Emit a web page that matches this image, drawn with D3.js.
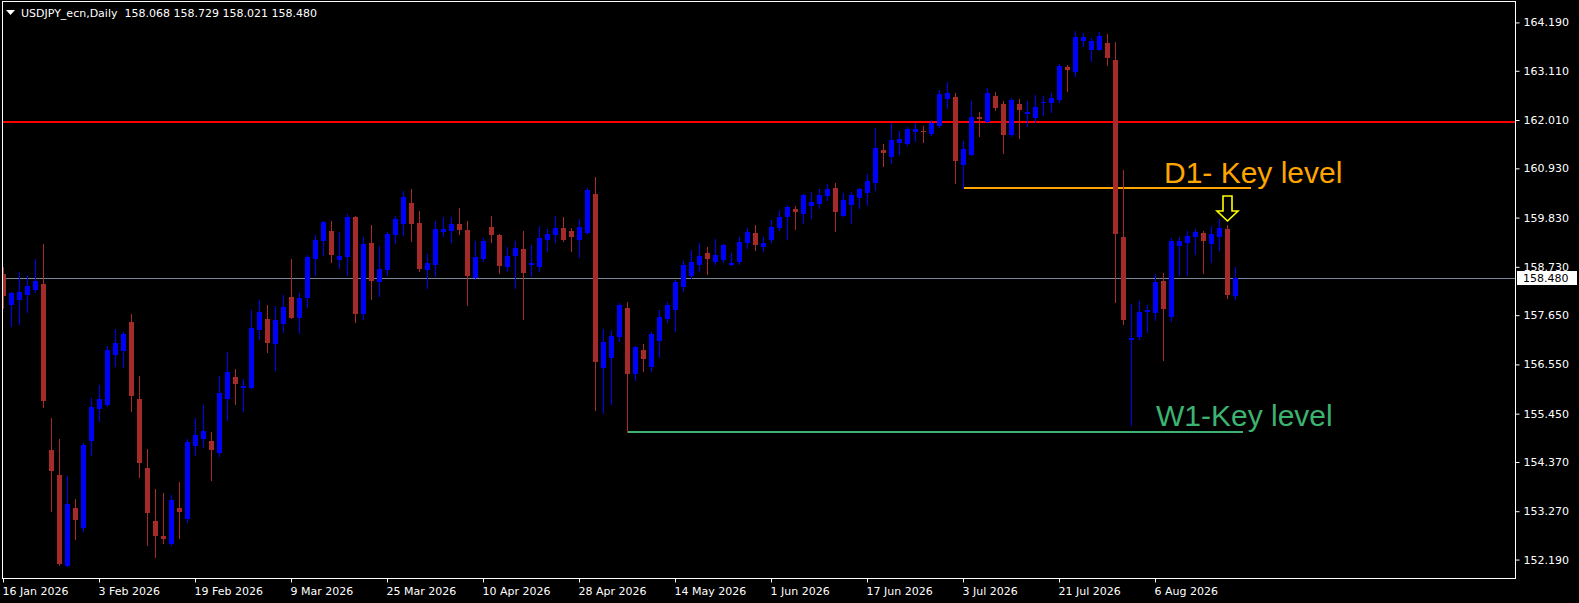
<!DOCTYPE html>
<html><head><meta charset="utf-8">
<script src="https://cdn.jsdelivr.net/npm/d3@7"></script>
<style>
html,body{margin:0;padding:0;background:#000;overflow:hidden;}
svg{display:block;}
</style></head><body>
<svg id="chart" width="1579" height="603"></svg>
<script>
// ---------------- data ----------------
const titleText = "USDJPY_ecn,Daily  158.068 158.729 158.021 158.480";
const dateLabels = ["16 Jan 2026","3 Feb 2026","19 Feb 2026","9 Mar 2026","25 Mar 2026","10 Apr 2026",
  "28 Apr 2026","14 May 2026","1 Jun 2026","17 Jun 2026","3 Jul 2026","21 Jul 2026","6 Aug 2026"];
const barsPerDateLabel = 12;
const priceTicks = [164.190,163.110,162.010,160.930,159.830,158.730,157.650,156.550,155.450,154.370,153.270,152.190];

const opens = [158.569,157.877,157.995,158.100,158.219,158.346,154.637,154.079,152.052,153.342,
152.901,154.838,155.553,155.643,156.760,156.849,157.497,155.777,154.235,153.051,
152.716,152.544,153.342,153.103,154.733,154.883,154.838,154.570,155.777,156.268,
156.029,156.029,157.325,157.564,157.012,157.459,158.056,157.593,158.040,158.911,
159.313,159.530,158.889,158.956,159.843,157.682,159.262,158.397,158.665,159.441,
159.693,160.156,159.709,158.665,158.770,159.514,159.530,159.686,159.552,158.480,
158.904,159.619,159.441,158.726,158.971,159.128,158.770,158.726,159.329,159.441,
159.597,159.530,159.329,159.485,160.357,156.469,156.693,157.162,157.810,156.342,
156.871,156.498,157.073,157.564,157.772,158.286,158.531,158.777,159.039,158.844,
158.889,158.770,158.844,159.262,159.485,159.173,159.329,159.597,159.843,160.022,
159.917,160.089,160.140,160.312,160.491,159.872,160.111,160.267,160.379,160.609,
161.340,161.190,161.503,161.474,161.742,161.771,161.697,161.876,162.486,162.524,
161.011,161.235,162.077,161.972,162.546,162.367,161.681,162.367,162.144,162.061,
162.396,162.396,162.457,163.194,163.082,163.775,163.574,163.574,163.730,163.350,
159.396,157.102,157.162,157.727,157.698,158.413,157.609,159.195,159.262,159.396,
159.485,159.240,159.396,159.575,158.068];
const highs = [158.719,158.167,158.614,158.547,158.904,159.240,155.346,154.883,154.056,153.543,
154.787,155.806,156.090,156.961,157.341,157.274,157.676,156.291,154.660,153.766,
153.677,153.625,153.922,154.876,155.352,155.643,155.039,156.297,156.827,156.447,
156.224,157.765,157.989,157.877,157.861,158.100,158.904,158.145,158.994,159.441,
159.753,159.753,159.508,159.917,159.865,159.396,159.664,159.195,159.508,159.865,
160.424,160.468,159.977,159.016,159.753,159.843,159.843,160.044,159.753,159.307,
159.374,159.865,159.463,159.173,159.307,159.530,159.217,159.642,159.575,159.865,
159.843,159.597,159.798,160.491,160.736,157.341,157.318,157.921,157.944,156.961,
157.005,157.274,157.765,157.944,158.435,158.860,159.106,159.262,159.173,159.351,
159.240,159.039,159.396,159.597,159.664,159.396,159.776,159.999,160.111,160.089,
160.357,160.401,160.468,160.580,160.602,160.372,160.401,160.484,160.803,161.831,
161.474,161.950,161.764,161.853,161.950,161.876,162.010,162.680,162.859,162.613,
161.541,162.434,162.189,162.725,162.635,162.434,162.501,162.479,162.434,162.568,
162.546,162.613,163.261,163.239,163.998,163.954,163.842,163.976,163.931,163.752,
160.893,157.899,157.966,157.877,158.569,158.592,159.374,159.396,159.530,159.575,
159.530,159.642,159.798,159.664,158.729];
const lows = [157.816,157.414,157.459,157.727,158.174,155.605,153.275,152.068,152.046,152.656,
152.834,154.532,155.285,155.620,156.521,156.498,155.515,154.041,152.522,152.254,
152.566,152.522,152.678,153.035,154.532,154.704,153.967,154.510,155.308,155.665,
155.515,156.020,157.124,156.833,156.431,157.280,157.586,157.251,157.839,158.554,
159.001,158.844,158.710,158.554,157.504,157.571,158.018,158.085,158.554,159.269,
159.441,159.313,158.643,158.263,158.525,159.418,159.284,159.463,157.877,158.458,
158.860,159.284,158.592,158.636,158.257,157.564,158.525,158.636,159.083,159.284,
159.307,159.083,158.949,159.463,155.531,155.464,155.665,157.073,155.050,156.201,
156.409,156.409,156.722,157.504,157.303,158.196,158.487,158.643,158.576,158.799,
158.844,158.760,158.799,159.150,159.106,159.083,159.284,159.552,159.351,159.575,
159.709,159.820,160.044,160.223,159.530,159.865,159.709,160.051,160.111,160.453,
160.989,161.056,161.257,161.459,161.547,161.525,161.686,161.861,162.285,160.609,
160.500,161.228,161.659,161.965,162.240,161.279,161.659,161.614,161.883,161.972,
162.128,162.195,162.419,162.664,162.993,163.663,163.328,163.563,163.239,157.944,
157.452,155.196,157.117,157.274,157.542,156.648,157.519,158.547,158.547,159.016,
158.592,158.837,159.106,158.033,158.021];
const closes = [158.085,158.138,158.167,158.301,158.413,155.732,154.175,152.090,153.431,153.080,
154.749,155.598,155.777,156.878,157.028,157.229,155.850,154.354,153.237,152.723,
152.656,153.520,153.252,154.816,154.972,155.062,154.637,155.911,156.380,156.119,
156.067,157.363,157.720,157.035,157.542,157.832,157.593,158.033,158.949,159.329,
159.742,159.001,158.971,159.843,157.682,159.240,158.420,158.681,159.463,159.798,
160.290,159.693,158.681,158.815,159.575,159.575,159.686,159.552,158.525,158.949,
159.307,159.441,158.748,158.971,159.150,158.592,158.815,159.374,159.463,159.597,
159.329,159.396,159.619,160.446,156.603,157.050,157.184,157.877,156.335,156.938,
156.677,157.229,157.609,157.877,158.391,158.770,158.837,158.971,158.911,158.994,
159.217,158.815,159.284,159.508,159.224,159.262,159.619,159.843,160.066,159.955,
160.334,160.178,160.334,160.468,159.955,160.223,160.334,160.468,160.647,161.384,
161.279,161.563,161.585,161.809,161.809,161.742,161.950,162.591,162.613,161.101,
161.362,162.077,162.032,162.613,162.285,161.681,162.457,162.240,162.189,162.300,
162.423,162.501,163.216,163.134,163.864,163.864,163.781,163.887,163.395,159.463,
157.542,157.140,157.720,157.758,158.391,157.787,159.307,159.307,159.418,159.508,
159.307,159.463,159.597,158.100,158.480];

const resistanceLevel = 161.97;
const d1Level = 160.50, d1FromBar = 120, d1ToBar = 156, d1Text = "D1- Key level";
const w1Level = 155.05, w1FromBar = 78, w1ToBar = 155, w1Text = "W1-Key level";
const arrowBar = 153;

// ---------------- drawing ----------------
const W = 1579, H = 603;
const plotL = 2, plotR = 1515, plotT = 1, plotB = 578;
const n = closes.length;
const x = d3.scaleLinear().domain([0, n - 1]).range([3, 3 + 8 * (n - 1)]);
const y = d3.scaleLinear().domain([151.778, 164.624]).range([578, 3]);
const BULL = "#0000ff", BEAR = "#a52a2a";
const FONT = "'DejaVu Sans', Verdana, sans-serif";

const svg = d3.select("#chart");
svg.append("rect").attr("width", W).attr("height", H).attr("fill", "#000");

svg.append("defs").append("clipPath").attr("id", "plotclip")
  .append("rect").attr("x", plotL + 1).attr("y", plotT + 1)
  .attr("width", plotR - plotL - 1).attr("height", plotB - plotT - 1);

const plot = svg.append("g").attr("clip-path", "url(#plotclip)");

// current price line
const lastY = Math.round(y(closes[n - 1])) + 0.5;
plot.append("line").attr("x1", plotL).attr("x2", plotR).attr("y1", lastY).attr("y2", lastY)
  .attr("stroke", "#778899").attr("stroke-width", 1);

// resistance line
plot.append("line").attr("x1", plotL).attr("x2", plotR)
  .attr("y1", Math.round(y(resistanceLevel))).attr("y2", Math.round(y(resistanceLevel)))
  .attr("stroke", "#ff0000").attr("stroke-width", 2);

// key level lines
plot.append("line").attr("x1", x(d1FromBar)).attr("x2", x(d1ToBar))
  .attr("y1", Math.round(y(d1Level))).attr("y2", Math.round(y(d1Level)))
  .attr("stroke", "#ffa500").attr("stroke-width", 2);
plot.append("line").attr("x1", x(w1FromBar)).attr("x2", x(w1ToBar))
  .attr("y1", Math.round(y(w1Level))).attr("y2", Math.round(y(w1Level)))
  .attr("stroke", "#3cb371").attr("stroke-width", 2);

// candles
const idx = d3.range(n);
const cg = plot.append("g").attr("shape-rendering", "crispEdges");
cg.selectAll("line.wick").data(idx).join("line").attr("class", "wick")
  .attr("x1", i => x(i) + 0.5).attr("x2", i => x(i) + 0.5)
  .attr("y1", i => Math.round(y(highs[i]))).attr("y2", i => Math.round(y(lows[i])) + 1)
  .attr("stroke", i => closes[i] >= opens[i] ? BULL : BEAR).attr("stroke-width", 1);
cg.selectAll("rect.body").data(idx).join("rect").attr("class", "body")
  .attr("x", i => x(i) - 2).attr("width", 5)
  .attr("y", i => Math.round(y(Math.max(opens[i], closes[i]))))
  .attr("height", i => Math.max(1, Math.round(y(Math.min(opens[i], closes[i]))) - Math.round(y(Math.max(opens[i], closes[i])))))
  .attr("fill", i => closes[i] >= opens[i] ? BULL : BEAR);

// annotation texts
svg.append("text").attr("x", x(145) + 1).attr("y", y(d1Level) - 5)
  .attr("fill", "#ffa500").attr("font-family", "'Liberation Sans', Arial, sans-serif")
  .attr("font-size", 30).text(d1Text);
svg.append("text").attr("x", x(144) + 1).attr("y", y(w1Level) - 5.5)
  .attr("fill", "#3cb371").attr("font-family", "'Liberation Sans', Arial, sans-serif")
  .attr("font-size", 30).text(w1Text);

// arrow above bar
const ax = x(arrowBar) + 0.5, tip = Math.round(y(highs[arrowBar])) - 4;
svg.append("polygon")
  .attr("points", [[ax - 4.5, tip - 25], [ax + 4.5, tip - 25], [ax + 4.5, tip - 10], [ax + 10.5, tip - 10],
    [ax, tip], [ax - 10.5, tip - 10], [ax - 4.5, tip - 10]].map(p => p.join(",")).join(" "))
  .attr("fill", "none").attr("stroke", "#ffff00").attr("stroke-width", 1.6).attr("stroke-linejoin", "miter");

// frame
svg.append("rect").attr("x", plotL + 0.5).attr("y", plotT + 0.5)
  .attr("width", plotR - plotL).attr("height", plotB - plotT)
  .attr("fill", "none").attr("stroke", "#fff").attr("stroke-width", 1);

// y axis
const yAxis = svg.append("g").attr("transform", `translate(${plotR + 0.5},0)`)
  .call(d3.axisRight(y).tickValues(priceTicks).tickFormat(d3.format(".3f")).tickSize(4).tickPadding(4));
yAxis.select(".domain").remove();
yAxis.selectAll("line").attr("stroke", "#fff");
yAxis.selectAll("text").attr("fill", "#fff").attr("font-family", FONT).attr("font-size", 11);

// x axis
const xAxis = svg.append("g").attr("transform", `translate(0,${plotB + 0.5})`)
  .call(d3.axisBottom(x).tickValues(dateLabels.map((d, k) => k * barsPerDateLabel))
    .tickFormat(v => dateLabels[v / barsPerDateLabel]).tickSize(4).tickPadding(5));
xAxis.select(".domain").remove();
xAxis.selectAll("line").attr("stroke", "#fff");
xAxis.selectAll("text").attr("fill", "#fff").attr("font-family", FONT).attr("font-size", 11)
  .attr("text-anchor", "start").attr("x", -1);

// current price tag
const tagY = y(closes[n - 1]);
svg.append("rect").attr("x", plotR + 2).attr("y", Math.round(tagY) - 7).attr("width", 60).attr("height", 14).attr("fill", "#fff");
svg.append("text").attr("x", plotR + 8).attr("y", tagY).attr("dy", "0.35em")
  .attr("fill", "#000").attr("font-family", FONT).attr("font-size", 11)
  .text(d3.format(".3f")(closes[n - 1]));

// title
svg.append("path").attr("d", "M6,10 L15,10 L10.5,15 Z").attr("fill", "#fff");
svg.append("text").attr("x", 21).attr("y", 17).attr("fill", "#fff")
  .attr("font-family", FONT).attr("font-size", 11).attr("xml:space", "preserve")
  .style("white-space", "pre").text(titleText);
</script>
</body></html>
